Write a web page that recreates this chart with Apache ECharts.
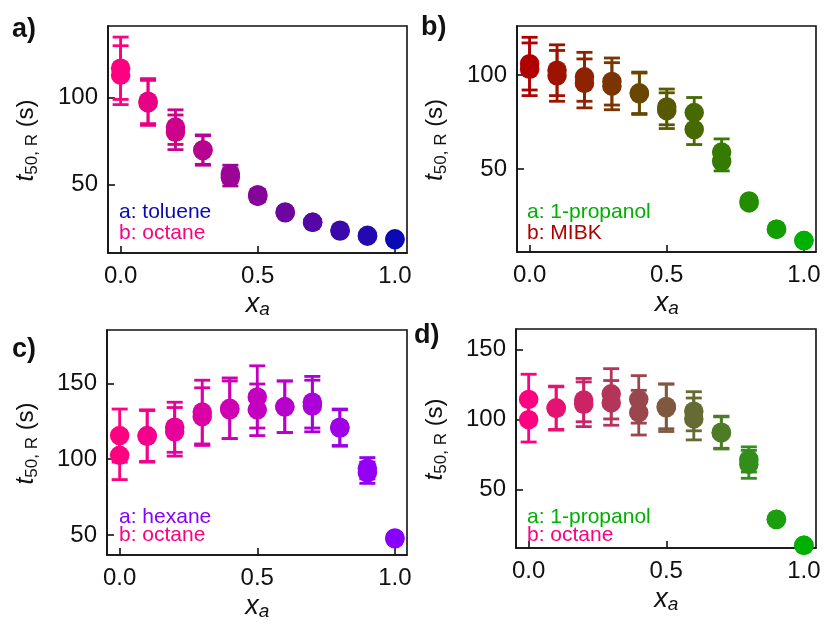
<!DOCTYPE html>
<html>
<head>
<meta charset="utf-8">
<script src="https://cdn.jsdelivr.net/npm/echarts@6/dist/echarts.min.js"></script>
<style>html,body{margin:0;padding:0;background:#fff;}#c{width:824px;height:624px;}</style>
</head>
<body>
<div id="c"></div>
<script>
// ---- data ----
const xa = [0, 0.1, 0.2, 0.3, 0.4, 0.5, 0.6, 0.7, 0.8, 0.9, 1.0];
const xTicks = [0, 0.5, 1.0];

// panel a: toluene / octane
const aY1 = [117, 98, 83, 70, 56, 44, 34, 28, 23.5, 20.5, 18.5];
const aE1 = [18, 13, 10, 8.5, 5, 3, 2, 1.5, 1.2, 1, 1];
const aY2 = [113, 97, 80, 69.5, 54, 43, 33.5, 28, 23, 20, 18];
const aE2 = [17, 13, 10, 8.5, 5, 3, 2, 1.5, 1.2, 1, 1];
const aTicks = [50, 100];

// panel b: 1-propanol / MIBK
const bY1 = [106, 102.5, 99, 96.5, 90.5, 83, 80, 59, 33, 18, 12];
const bE1 = [14, 13.5, 13, 12.5, 11, 9.5, 8, 7, 2, 1, 1];
const bY2 = [103, 99.5, 95.5, 94, 90, 81, 71, 54, 32, 18, 12];
const bE2 = [14, 13.5, 13, 12.5, 11, 9.5, 8, 5, 2, 1, 1];
const bTicks = [50, 100];

// panel c: hexane / octane
const cY1 = [115.5, 115.5, 121, 131, 133.5, 141, 134.5, 137.5, 121, 94, 48];
const cE1 = [17.5, 17, 16.5, 21, 20, 20.5, 17, 17, 12, 7, 3];
const cY2 = [102.5, 115, 118, 128, 132.5, 132.5, 134.5, 135, 120.5, 91, 47.5];
const cE2 = [16, 17, 16, 19, 19, 17, 17, 17, 12, 7, 3];
const cTicks = [50, 100, 150];

// panel d: 1-propanol / octane
const dY1 = [114.5, 108.5, 114, 118.5, 114.5, 109.5, 106, 91, 71.5, 28.7, 10];
const dE1 = [18, 15.5, 15.5, 18, 17, 16, 14, 11.5, 9, 1.5, 1];
const dY2 = [100, 108, 111, 112, 105, 108.5, 100.5, 90.5, 68, 28.5, 10];
const dE2 = [16, 15.5, 16, 16, 16, 17, 15, 11.5, 10, 1.5, 1];
const dTicks = [50, 100, 150];

// ---- styling ----
const FONT = 'Liberation Sans, Arial, Helvetica, sans-serif';
const panels = [
  {lab:'a)', labX:12, labY:16, Y1:aY1, E1:aE1, Y2:aY2, E2:aE2, ticks:aTicks,
   grid:{left:108, top:26, width:299, height:227}, ymin:10.3, ymax:141.4,
   colA:[10,10,180], colB:[255,0,128], nameA:'a: toluene', nameB:'b: octane',
   legX:119, legA:220, legB:240.5, yNameX:26},
  {lab:'b)', labX:421, labY:14, Y1:bY1, E1:bE1, Y2:bY2, E2:bE2, ticks:bTicks,
   grid:{left:517, top:26, width:299, height:226}, ymin:5.9, ymax:126,
   colA:[0,176,0], colB:[176,0,0], nameA:'a: 1-propanol', nameB:'b: MIBK',
   legX:527, legA:220, legB:240.5, yNameX:435},
  {lab:'c)', labX:12, labY:336, Y1:cY1, E1:cE1, Y2:cY2, E2:cE2, ticks:cTicks,
   grid:{left:107, top:330, width:300, height:225}, ymin:36.8, ymax:185.1,
   colA:[136,0,255], colB:[255,0,128], nameA:'a: hexane', nameB:'b: octane',
   legX:119, legA:524.5, legB:543, yNameX:26},
  {lab:'d)', labX:414, labY:322, Y1:dY1, E1:dE1, Y2:dY2, E2:dE2, ticks:dTicks,
   grid:{left:516, top:329, width:300, height:219}, ymin:8.1, ymax:164.9,
   colA:[0,176,0], colB:[255,0,128], nameA:'a: 1-propanol', nameB:'b: octane',
   legX:527, legA:524.5, legB:543, yNameX:435}
];

function mix(cb, ca, t) {
  const c = cb.map((v, i) => Math.round(v + (ca[i] - v) * t));
  return 'rgb(' + c.join(',') + ')';
}
const rgb = c => 'rgb(' + c.join(',') + ')';

const grids = [], xAxes = [], yAxes = [], series = [], graphics = [];

panels.forEach((p, k) => {
  grids.push(Object.assign({show:true, borderColor:'#111', borderWidth:1.6, backgroundColor:'transparent'}, p.grid));
  xAxes.push({
    type:'value', gridIndex:k, min:-0.046, max:1.044,
    splitLine:{show:false},
    axisLine:{show:true, onZero:false, lineStyle:{color:'#111', width:1.6}},
    axisTick:{show:true, inside:true, length:7, lineStyle:{color:'#111', width:1.6}, customValues:xTicks},
    axisLabel:{show:true, customValues:xTicks, formatter:v => v.toFixed(1), fontFamily:FONT, fontSize:24, color:'#111', margin:11}
  });
  yAxes.push({
    type:'value', gridIndex:k, min:p.ymin, max:p.ymax,
    splitLine:{show:false},
    axisLine:{show:true, onZero:false, lineStyle:{color:'#111', width:1.6}},
    axisTick:{show:true, inside:true, length:7, lineStyle:{color:'#111', width:1.6}, customValues:p.ticks},
    axisLabel:{show:true, customValues:p.ticks, fontFamily:FONT, fontSize:24, color:'#111', margin:10}
  });
  [[p.Y1, p.E1], [p.Y2, p.E2]].forEach(([Y, E], r) => {
    const data = xa.map((x, i) => [x, Y[i], E[i]]);
    series.push({
      type:'custom', xAxisIndex:k, yAxisIndex:k, z:2 + r * 2,
      data:data,
      renderItem:(params, api) => {
        const x = api.value(0), y = api.value(1), e = api.value(2);
        const t = api.coord([x, y + e]), b = api.coord([x, y - e]);
        const col = mix(p.colB, p.colA, x);
        const hw = 8;
        const st = {stroke:col, lineWidth:2.8};
        return {type:'group', children:[
          {type:'line', shape:{x1:t[0], y1:t[1], x2:b[0], y2:b[1]}, style:st},
          {type:'line', shape:{x1:t[0]-hw, y1:t[1], x2:t[0]+hw, y2:t[1]}, style:st},
          {type:'line', shape:{x1:b[0]-hw, y1:b[1], x2:b[0]+hw, y2:b[1]}, style:st}
        ]};
      }
    });
    series.push({
      type:'scatter', xAxisIndex:k, yAxisIndex:k, z:3 + r * 2,
      symbol:'circle', symbolSize:19.5,
      data:xa.map((x, i) => ({value:[x, Y[i]], itemStyle:{color:mix(p.colB, p.colA, x), opacity:1}})),
      emphasis:{disabled:true}, silent:true
    });
  });
  // panel label
  graphics.push({type:'text', x:p.labX, y:p.labY, style:{text:p.lab, font:'bold 27px ' + FONT, fill:'#111', textVerticalAlign:'top'}});
  // legend texts (y given as baseline; middle of em box is ~0.35em above)
  graphics.push({type:'text', x:p.legX, y:p.legA - 7.5, style:{text:p.nameA, font:'21px ' + FONT, fill:rgb(p.colA), textVerticalAlign:'middle'}});
  graphics.push({type:'text', x:p.legX, y:p.legB - 7.5, style:{text:p.nameB, font:'21px ' + FONT, fill:rgb(p.colB), textVerticalAlign:'middle'}});
  // x axis name
  const cx = p.grid.left + p.grid.width * (0.5 + 0.046) / 1.09;
  const bottom = p.grid.top + p.grid.height;
  graphics.push({type:'text', x:cx, y:bottom + 51, style:{
    text:'{x|x}{s|a}', textAlign:'center', textVerticalAlign:'middle',
    rich:{x:{fontFamily:FONT, fontStyle:'italic', fontSize:27, lineHeight:30, fill:'#111', verticalAlign:'middle'},
          s:{fontFamily:FONT, fontStyle:'italic', fontSize:19, lineHeight:16, fill:'#111', verticalAlign:'bottom'}}
  }});
  // y axis name
  const cy = p.grid.top + p.grid.height / 2 + 1;
  graphics.push({type:'text', x:p.yNameX, y:cy, rotation:Math.PI / 2, style:{
    text:'{t|t}{s|50, R}{n| (s)}', textAlign:'center', textVerticalAlign:'middle',
    rich:{t:{fontFamily:FONT, fontStyle:'italic', fontSize:25, lineHeight:30, fill:'#111'},
          s:{fontFamily:FONT, fontSize:17, lineHeight:18, fill:'#111', verticalAlign:'bottom'},
          n:{fontFamily:FONT, fontSize:24, lineHeight:30, fill:'#111'}}
  }});
});

const chart = echarts.init(document.getElementById('c'), null, {renderer:'canvas'});
chart.setOption({
  backgroundColor:'#fff',
  animation:false,
  grid:grids, xAxis:xAxes, yAxis:yAxes, series:series,
  graphic:graphics
});
</script>
</body>
</html>
